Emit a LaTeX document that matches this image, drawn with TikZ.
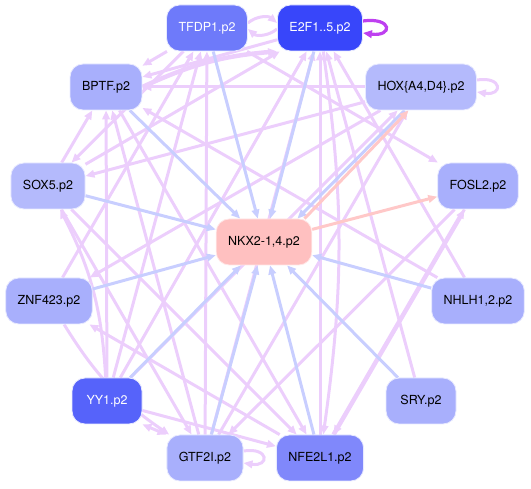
\documentclass[tikz,border=0pt]{standalone}
\usepackage{fontspec}
\setmainfont{TeX Gyre Heros}
\usetikzlibrary{arrows.meta,backgrounds}

\definecolor{c_dark}{RGB}{56,70,250}
\definecolor{c_mid}{RGB}{110,122,250}
\definecolor{c_yy}{RGB}{86,99,250}
\definecolor{c_nfe}{RGB}{128,136,251}
\definecolor{c_light}{RGB}{168,175,252}
\definecolor{c_pale}{RGB}{180,186,252}
\definecolor{c_nkx}{RGB}{255,192,192}
\definecolor{c_rim}{RGB}{232,234,255}
\definecolor{c_purple}{RGB}{236,206,252}
\definecolor{c_bluee}{RGB}{200,206,255}
\definecolor{c_pinke}{RGB}{255,200,200}
\definecolor{c_strong}{RGB}{190,64,240}

\begin{document}
\begin{tikzpicture}[x=1pt,y=1pt]
    % Kieu nut va canh
    \tikzset{
        c_box/.style={rectangle, rounded corners=13pt, minimum height=46pt, minimum width=70pt,
            inner xsep=12pt, draw=c_rim, line width=0.8pt, font=\fontsize{12.5}{15}\selectfont},
        c_tip/.style={-{Triangle[length=9pt,width=7.5pt]}},
        c_pur/.style={c_tip, draw=c_purple, line width=3pt},
        c_thick/.style={c_tip, draw=c_purple, line width=4.5pt},
        c_blue/.style={c_tip, draw=c_bluee, line width=3pt},
        c_pink/.style={c_tip, draw=c_pinke, line width=3pt},
        c_self/.style={c_tip, draw=c_strong, line width=3.2pt}
    }
    \useasboundingbox (0,0) rectangle (531,489);

    % Cac nut quanh vong tron
    \node[c_box, fill=c_mid, text=white] (tfdp) at (207,461) {TFDP1.p2};
    \node[c_box, fill=c_dark, text=white] (etf) at (320,461) {E2F1..5.p2};
    \node[c_box, fill=c_pale] (hox) at (421,402) {HOX\{A4,D4\}.p2};
    \node[c_box, fill=c_light] (fosl) at (478,303) {FOSL2.p2};
    \node[c_box, fill=c_light] (nhlh) at (478,188) {NHLH1,2.p2};
    \node[c_box, fill=c_light] (sry) at (421,88) {SRY.p2};
    \node[c_box, fill=c_nfe] (nfe) at (320,31) {NFE2L1.p2};
    \node[c_box, fill=c_light] (gtf) at (205,31) {GTF2I.p2};
    \node[c_box, fill=c_yy, text=white] (yy) at (107,88) {YY1.p2};
    \node[c_box, fill=c_light] (znf) at (49,188) {ZNF423.p2};
    \node[c_box, fill=c_pale] (sox) at (48,303) {SOX5.p2};
    \node[c_box, fill=c_light] (bptf) at (106,402) {BPTF.p2};
    % Nut trung tam
    \node[c_box, fill=c_nkx, draw=c_nkx!40!white] (nkx) at (264,247) {NKX2-1,4.p2};

    \begin{scope}[on background layer]
    % Canh tim giua cac nut ngoai
    \foreach \s/\t in {tfdp/bptf, etf/bptf, hox/bptf, nhlh/bptf, sox/bptf, yy/bptf, gtf/bptf,
        tfdp/fosl, hox/sox, tfdp/sox, yy/tfdp, gtf/tfdp, znf/tfdp,
        yy/etf, gtf/etf, sry/etf, nhlh/etf, sox/etf, nfe/etf,
        yy/hox, gtf/hox, yy/nfe, hox/znf, nfe/znf, bptf/nfe, sox/nfe,
        sox/gtf, fosl/gtf, fosl/nfe} {
        \draw[c_pur] (\s) -- (\t);
    }
    \draw[c_pur] (etf) to[bend left=8] (nfe);
    \draw[c_pur] (yy) to[bend right=12] (sox);
    \draw[c_pur] (znf) to[bend right=12] (gtf);
    \draw[c_pur, {Triangle[length=9pt,width=7.5pt]}-{Triangle[length=9pt,width=7.5pt]}]
        (yy.south east) -- (gtf.north west);
    \draw[c_thick] (nfe) -- (fosl);
    \draw[c_thick] (bptf.east) to[bend left=10] (etf.south west);
    \draw[c_pur] ([yshift=5pt]tfdp.east) to[bend left=40] ([yshift=5pt]etf.west);
    \draw[c_pur] ([yshift=-1pt]etf.west) to[bend left=40] ([yshift=-1pt]tfdp.east);

    % Vong tu than
    \draw[c_self] ([yshift=7pt]etf.east) .. controls +(30pt,4pt) and +(30pt,-4pt) .. ([yshift=-5pt]etf.east);
    \draw[c_pur] ([yshift=7pt]hox.east) .. controls +(26pt,4pt) and +(26pt,-4pt) .. ([yshift=-5pt]hox.east);
    \draw[c_pur] ([yshift=7pt]gtf.east) .. controls +(26pt,4pt) and +(26pt,-4pt) .. ([yshift=-5pt]gtf.east);

    % Canh xanh vao NKX
    \foreach \s in {tfdp,etf,bptf,sox,znf,yy,gtf,nfe,sry,nhlh} {
        \draw[c_blue] (\s) -- (nkx);
    }
    \draw[c_blue] (hox.-125) -- (nkx.35);
    \draw[c_pink] (nkx.30) -- (hox.-118);
    \draw[c_pink] (nkx) -- (fosl);
    \end{scope}
\end{tikzpicture}
\end{document}
